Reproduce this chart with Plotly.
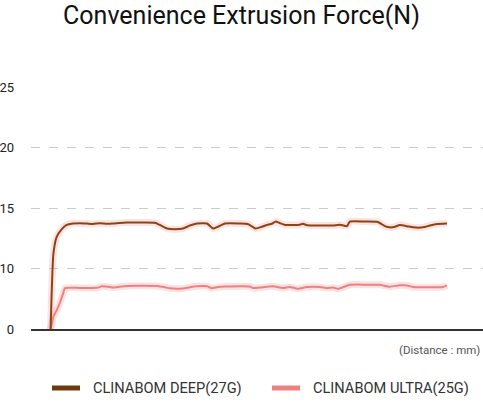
import plotly.graph_objects as go

# ---------------- data ----------------
y_tick_labels = ["0", "10", "15", "20", "25"]
y_tick_values = [0, 10, 15, 20, 25]

deep_name = "CLINABOM DEEP(27G)"
deep_dist = [0, 0.7, 1.5, 2.8, 4, 5.6, 7.3, 9.1, 10.6, 12.3, 14.1, 15.6, 17.3, 19.1, 22.3, 26.1,
             27.3, 29.1, 31.1, 33.1, 34.8, 36.6, 39.1, 40.6, 41.8, 43.6, 47.3, 49.3, 51.3, 52.8,
             54.1, 55.3, 56.3, 57.3, 58.6, 62.3, 63.1, 64.1, 67.3, 70.6, 72.3, 74.1, 74.8, 78.6,
             81.8, 83.6, 84.8, 86.1, 87.3, 89.1, 90.6, 93.1, 94.8, 96.6, 99.1]
deep_force = [0, 11.2, 12.6, 13.25, 13.6, 13.72, 13.75, 13.72, 13.68, 13.75, 13.7, 13.72, 13.77, 13.8,
              13.8, 13.78, 13.6, 13.3, 13.25, 13.3, 13.55, 13.72, 13.72, 13.3, 13.45, 13.72, 13.72,
              13.68, 13.3, 13.45, 13.6, 13.7, 13.88, 13.75, 13.6, 13.62, 13.7, 13.58, 13.55, 13.55,
              13.62, 13.5, 13.88, 13.88, 13.85, 13.5, 13.4, 13.45, 13.6, 13.5, 13.4, 13.4, 13.55,
              13.68, 13.72]

ultra_name = "CLINABOM ULTRA(25G)"
ultra_dist = [0, 0.7, 1.6, 2.3, 3.1, 3.6, 6.1, 8.6, 11.6, 12.8, 14.3, 15.6, 17.3, 19.1, 22.3, 26.6,
              28.6, 29.8, 33.1, 34.8, 36.6, 39.1, 40.3, 41.8, 43.6, 49.8, 50.6, 52.3, 55.6, 58.1,
              59.8, 61.8, 64.1, 67.3, 69.1, 70.6, 71.8, 73.1, 74.8, 78.6, 82.3, 84.8, 87.3, 89.1,
              90.6, 98.1, 99.1]
ultra_force = [0, 2.0, 3.2, 4.3, 5.8, 6.75, 6.8, 6.78, 6.8, 7.05, 7.0, 6.85, 7.0, 7.12, 7.15, 7.12,
               6.9, 6.72, 6.7, 6.9, 7.05, 7.05, 6.75, 6.95, 7.02, 7.02, 6.78, 6.85, 7.05, 6.78,
               6.95, 6.65, 6.95, 6.95, 6.75, 6.85, 6.65, 6.9, 7.3, 7.33, 7.3, 7.0, 7.22, 7.2,
               6.95, 6.95, 7.2]

# ---------------- piecewise axis scale (ticks equally spaced) ----------------
def scale(v):
    for i in range(len(y_tick_values) - 1):
        a, b = y_tick_values[i], y_tick_values[i + 1]
        if v <= b or i == len(y_tick_values) - 2:
            return i + (v - a) / (b - a)

deep_y = [scale(v) for v in deep_force]
ultra_y = [scale(v) for v in ultra_force]

BROWN = "#8B4513"
BROWN_LEG = "#6E3A0C"
PINK = "#F08080"
GLOW = "rgba(240,128,128,0.22)"

W, H = 483, 402
ML, MR, MT, MB = 31, 0, 87, 73
PW, PH = W - ML - MR, H - MT - MB

def px_x(p):  # page px -> paper x
    return (p - ML) / PW

def px_y(p):  # page px -> paper y
    return (H - MB - p) / PH

fig = go.Figure()
# glow
for xs, ys in [(deep_dist, deep_y), (ultra_dist, ultra_y)]:
    fig.add_trace(go.Scatter(x=xs, y=ys, mode="lines", showlegend=False, hoverinfo="skip",
                             line=dict(color=GLOW, width=7, shape="spline", smoothing=0.5)))
fig.add_trace(go.Scatter(x=ultra_dist, y=ultra_y, mode="lines", name=ultra_name, showlegend=False,
                         line=dict(color=PINK, width=2, shape="spline", smoothing=0.5)))
fig.add_trace(go.Scatter(x=deep_dist, y=deep_y, mode="lines", name=deep_name, showlegend=False,
                         line=dict(color=BROWN, width=2, shape="spline", smoothing=0.5)))

# manual legend (swatch + label)
shapes = []
annotations = []
for x0, name, col in [(52, deep_name, BROWN_LEG), (272, ultra_name, PINK)]:
    shapes.append(dict(type="line", xref="paper", yref="paper",
                       x0=px_x(x0), x1=px_x(x0 + 28), y0=px_y(388), y1=px_y(388),
                       line=dict(color=col, width=5)))
    annotations.append(dict(text=name, xref="paper", yref="paper", x=px_x(x0 + 39),
                            xanchor="left", y=px_y(388), yanchor="middle", showarrow=False,
                            font=dict(family="Roboto", size=14.6, color="#333333")))
annotations.append(dict(text="(Distance : mm)", xref="paper", yref="paper", x=px_x(482),
                        xanchor="right", y=px_y(350), yanchor="middle", showarrow=False,
                        font=dict(family="Roboto", size=11.5, color="#555555")))

fig.update_layout(
    width=W, height=H,
    margin=dict(l=ML, r=MR, t=MT, b=MB, autoexpand=False),
    paper_bgcolor="white", plot_bgcolor="white",
    font=dict(family="Roboto", color="#333333", size=13),
    showlegend=False,
    title=dict(text="Convenience Extrusion Force(N)", x=0.5, xanchor="center",
               y=1 - 15 / H, yanchor="middle",
               font=dict(family="Roboto", size=25, color="#111111")),
    xaxis=dict(range=[-4.9, 108.1], showgrid=False, zeroline=False, showticklabels=False,
               ticks="", showline=True, linecolor="#333333", linewidth=2),
    yaxis=dict(range=[0, 4], tickvals=list(range(len(y_tick_labels))), ticktext=y_tick_labels,
               showgrid=True, gridcolor="#cccccc", griddash="dash", gridwidth=1,
               zeroline=False, showline=False, ticks="", ticklabelstandoff=16,
               tickfont=dict(family="Roboto", size=13, color="#222222")),
    shapes=shapes,
    annotations=annotations,
)

fig.write_html("out.html", config={"displayModeBar": False},
               post_script="document.body.style.margin='0px';document.body.style.padding='0px';")
